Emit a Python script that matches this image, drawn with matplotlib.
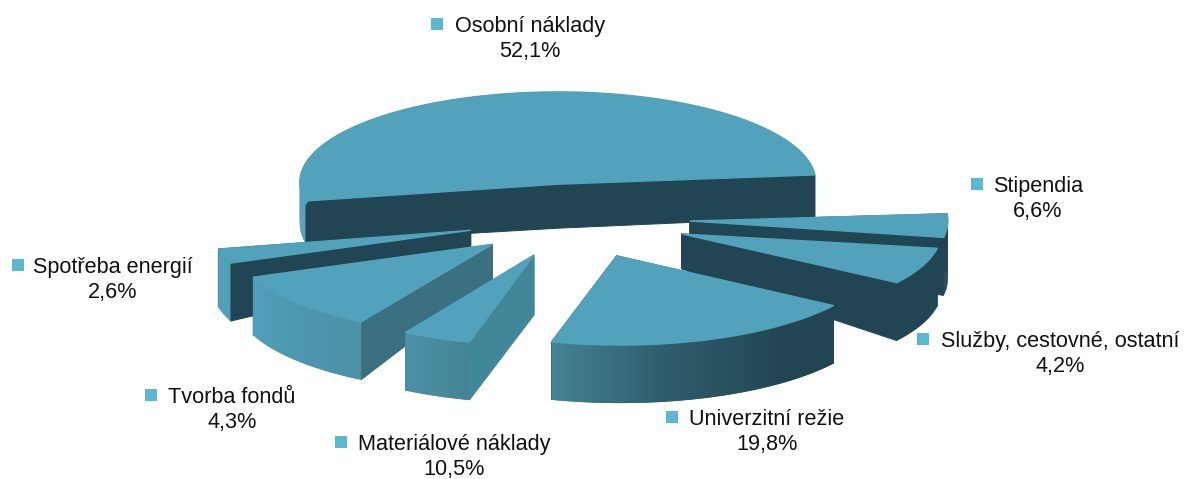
#!/usr/bin/env python
import numpy as np
import matplotlib
matplotlib.use("Agg")
import matplotlib.pyplot as plt
from matplotlib.colors import to_rgb
from matplotlib.patches import Polygon, Rectangle

# --- Data (in the order the wedges run clockwise round the pie) ---
categories = ["Osobní náklady", "Služby, cestovné, ostatní", "Stipendia", "Univerzitní režie",
              "Tvorba fondů", "Materiálové náklady", "Spotřeba energií"]
values = [52.1, 4.2, 6.6, 19.8, 4.3, 10.5, 2.6]

# --- Layout, in pixels of the 1187x479 picture ---
CX, CY = 578.0, 219.0
RX, KY = 258.0, 0.35
EXPLODE = 112.0
START_ANGLE = -102.0
depth_outer = [42, 58, 58, 58, 58, 58, 58]
depth_apex = [44, 35, 35, 35, 60, 35, 35]
# the source has some perspective, the rims sit a little off the plain ellipse
rim_dx = [-4, 0, 2, 3.5, 4, 1, 0]
rim_dy = [2, 0, -2, -1, 0, 0, 0]
apex_dx = [-4, 0, 0, 0, 0, 0, 0]
apex_dy = [4, 0, 0, 0, 0, 0, 0]

TOP = "#51a2ba"
DARK = "#214552"
MARKER = "#5cb8d2"
cut_colors = [DARK, DARK, DARK, DARK, "#428699", "#3a7080", DARK]
draw_order = [0, 1, 2, 6, 5, 4, 3]

# x of square, x of text centre, y of first line
label_pos = [(437, 530, 25), (923, 1060, 340), (977, 1038, 185), (672, 767, 418),
             (151, 232, 396), (341, 454, 443), (18, 113, 266)]

rim_angles = [90, 140, 170, 196, 212, 230, 250, 360]
rim_colors = [DARK, DARK, "#2f5c6b", "#458496", "#4b92a8", "#4c98b0", "#52a0b9", "#52a0b9"]


def rim_color(theta):
    rgb = np.array([to_rgb(c) for c in rim_colors])
    t = theta % 360
    return tuple(np.interp(t, rim_angles, rgb[:, i]) for i in range(3))


def draw_wedge(ax, a0, a1, i, z):
    mid = np.radians((a0 + a1) / 2)
    base = np.array([CX + EXPLODE * np.sin(mid), CY - EXPLODE * KY * np.cos(mid)])
    apex = base + [apex_dx[i], apex_dy[i]]
    d_out, d_apex = depth_outer[i], depth_apex[i]
    cut_color = cut_colors[i]

    def edge_point(theta):
        a = np.radians(theta)
        return np.array([base[0] + rim_dx[i] + RX * np.sin(a),
                         base[1] + rim_dy[i] - RX * KY * np.cos(a)])

    # cut faces first, whatever faces backwards ends up under the top
    for theta in (a0, a1):
        p = edge_point(theta)
        quad = [apex, p, p + [0, d_out], apex + [0, d_apex]]
        ax.add_patch(Polygon(quad, closed=True, fc=cut_color, ec=cut_color, lw=0.7, zorder=z))

    # outer rim as thin strips, each one runs under the next so no seams show
    thetas = np.linspace(a0, a1, max(int(a1 - a0) * 2, 2) + 1)
    for j in range(len(thetas) - 1):
        p0 = edge_point(thetas[j])
        p1 = edge_point(thetas[min(j + 2, len(thetas) - 1)])
        col = rim_color((thetas[j] + thetas[j + 1]) / 2)
        ax.add_patch(Polygon([p0, p1, p1 + [0, d_out], p0 + [0, d_out]], closed=True,
                             fc=col, ec="none", zorder=z + 0.1))

    # top surface, its outline hides the outline of the cut faces below
    arc = [edge_point(t) for t in thetas]
    ax.add_patch(Polygon([apex] + arc, closed=True, fc=TOP, ec=TOP, lw=1.0, zorder=z + 0.2))


def main():
    plt.rcParams["font.family"] = ["Liberation Sans", "DejaVu Sans"]
    fig = plt.figure(figsize=(11.87, 4.79), dpi=100)
    ax = fig.add_axes([0, 0, 1, 1])
    ax.set_xlim(0, 1187)
    ax.set_ylim(479, 0)
    ax.axis("off")

    angles = START_ANGLE + np.concatenate([[0], np.cumsum(values)]) / sum(values) * 360.0
    for z, i in enumerate(draw_order):
        draw_wedge(ax, angles[i], angles[i + 1], i, z + 1)

    # labels
    for i, name in enumerate(categories):
        sq_x, tx, ty = label_pos[i]
        ax.add_patch(Rectangle((sq_x - 6, ty - 7), 12, 12, fc=MARKER, ec="none", zorder=20))
        ax.text(tx, ty + 1.5, name, fontsize=15.6, ha="center", va="center", color="#111111", zorder=21)
        pct = f"{values[i]:.1f}%".replace(".", ",")
        ax.text(tx, ty + 26.5, pct, fontsize=15.6, ha="center", va="center", color="#111111", zorder=21)

    fig.savefig("out.png", dpi=100)


if __name__ == "__main__":
    main()
